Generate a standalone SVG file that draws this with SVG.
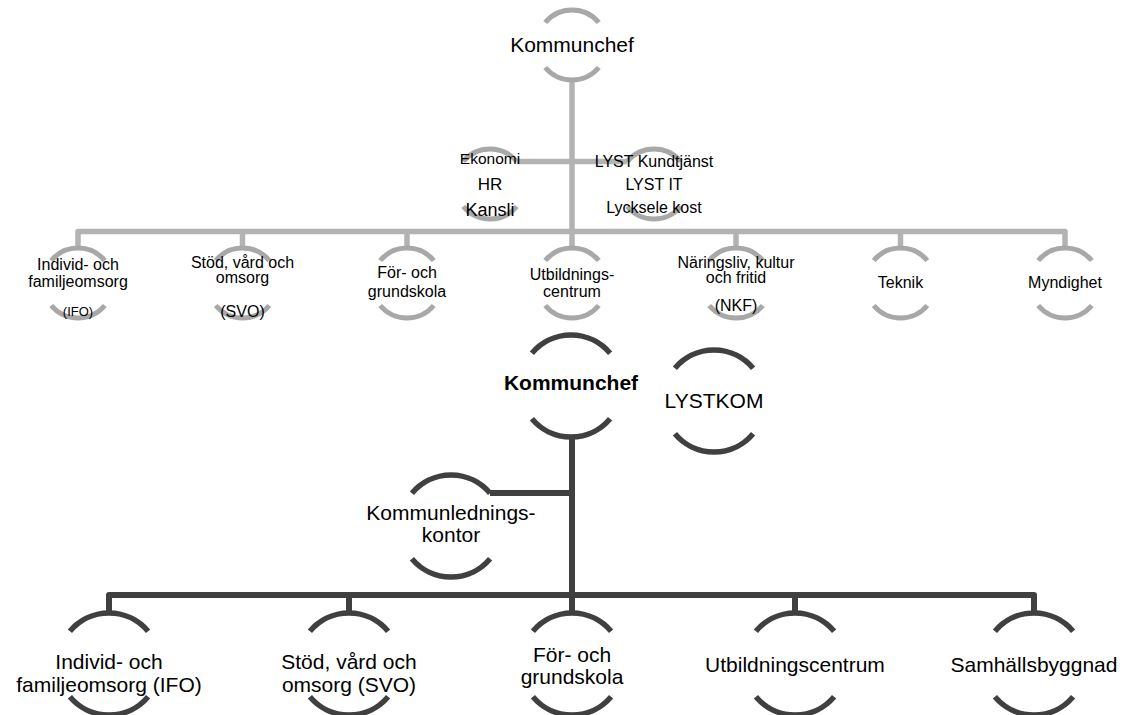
<svg xmlns="http://www.w3.org/2000/svg" xmlns:xlink="http://www.w3.org/1999/xlink" width="1135" height="715" viewBox="0 0 1135 715">
<style>
  text { font-family: "Liberation Sans", Arial, sans-serif; fill: #000; text-anchor: middle; }
  .t16 { font-size: 16px; }
  .t21 { font-size: 21px; }
  .gl { fill: none; stroke: #b3b3b3; stroke-width: 5.5; stroke-linejoin: round; }
  .dl { fill: none; stroke: #404040; stroke-width: 6; stroke-linejoin: round; }
</style>
<defs>
  <path id="ga" d="M-26.8,-22.5 A35,35 0 0 1 26.8,-22.5 M-26.8,22.5 A35,35 0 0 0 26.8,22.5" fill="none" stroke="#a8a8a8" stroke-width="5"/>
  <path id="da" d="M-39.1,-32.8 A51,51 0 0 1 39.1,-32.8 M-39.1,32.8 A51,51 0 0 0 39.1,32.8" fill="none" stroke="#404040" stroke-width="5.5"/>
</defs>
<rect width="1135" height="715" fill="#fff"/>
<g id="connectors">
  <path class="gl" d="M572,80 V231.5"/>
  <path class="gl" d="M78,248 V231.5 H1065 V248"/>
  <path class="gl" d="M242.5,231.5 V248 M407,231.5 V248 M572,231.5 V248 M736,231.5 V248 M900.5,231.5 V248"/>
  <path class="gl" d="M516.8,161.5 H627.2"/>
  <path class="dl" d="M572,437 V595"/>
  <path class="dl" d="M490,493 H572"/>
  <path class="dl" d="M109,613 V595 H1034 V613"/>
  <path class="dl" d="M349,595 V613 M572,595 V613 M795,595 V613"/>
</g>
<g id="top-kommunchef">
  <use xlink:href="#ga" x="572" y="45"/>
  <text class="t21" x="572" y="52">Kommunchef</text>
</g>
<g id="staff-left">
  <use xlink:href="#ga" x="490" y="184"/>
  <text x="490" y="164" style="font-size:15.5px">Ekonomi</text>
  <text x="490" y="190" style="font-size:17px">HR</text>
  <text x="490" y="216" style="font-size:18px">Kansli</text>
</g>
<g id="staff-right">
  <use xlink:href="#ga" x="654" y="184"/>
  <text class="t16" x="654" y="167">LYST Kundtjänst</text>
  <text class="t16" x="654" y="190">LYST IT</text>
  <text class="t16" x="654" y="213">Lycksele kost</text>
</g>
<g id="top-ifo">
  <use xlink:href="#ga" x="78" y="283"/>
  <text class="t16" x="78" y="270">Individ- och</text>
  <text class="t16" x="78" y="287">familjeomsorg</text>
  <text x="78" y="316" style="font-size:13px">(IFO)</text>
</g>
<g id="top-svo">
  <use xlink:href="#ga" x="242.5" y="283"/>
  <text class="t16" x="242.5" y="268">Stöd, vård och</text>
  <text class="t16" x="242.5" y="283">omsorg</text>
  <text class="t16" x="242.5" y="317">(SVO)</text>
</g>
<g id="top-for">
  <use xlink:href="#ga" x="407" y="283"/>
  <text class="t16" x="407" y="278">För- och</text>
  <text class="t16" x="407" y="297">grundskola</text>
</g>
<g id="top-utb">
  <use xlink:href="#ga" x="572" y="283"/>
  <text class="t16" x="572" y="280">Utbildnings-</text>
  <text class="t16" x="572" y="297">centrum</text>
</g>
<g id="top-nkf">
  <use xlink:href="#ga" x="736" y="283"/>
  <text class="t16" x="736" y="268">Näringsliv, kultur</text>
  <text class="t16" x="736" y="283">och fritid</text>
  <text class="t16" x="736" y="311">(NKF)</text>
</g>
<g id="top-teknik">
  <use xlink:href="#ga" x="900.5" y="283"/>
  <text class="t16" x="900.5" y="288">Teknik</text>
</g>
<g id="top-myndighet">
  <use xlink:href="#ga" x="1065" y="283"/>
  <text class="t16" x="1065" y="288">Myndighet</text>
</g>
<g id="kommunchef">
  <use xlink:href="#da" x="571" y="386"/>
  <text class="t21" x="571" y="390" font-weight="bold">Kommunchef</text>
</g>
<g id="lystkom">
  <use xlink:href="#da" x="714" y="401"/>
  <text class="t21" x="714" y="408">LYSTKOM</text>
</g>
<g id="kommunledningskontor">
  <use xlink:href="#da" x="451" y="526"/>
  <text class="t21" x="451" y="520">Kommunlednings-</text>
  <text class="t21" x="451" y="542">kontor</text>
</g>
<g id="ifo">
  <use xlink:href="#da" x="109" y="664"/>
  <text class="t21" x="109" y="669">Individ- och</text>
  <text class="t21" x="109" y="692">familjeomsorg (IFO)</text>
</g>
<g id="svo">
  <use xlink:href="#da" x="349" y="664"/>
  <text class="t21" x="349" y="669">Stöd, vård och</text>
  <text class="t21" x="349" y="692">omsorg (SVO)</text>
</g>
<g id="for">
  <use xlink:href="#da" x="572" y="664"/>
  <text class="t21" x="572" y="662">För- och</text>
  <text class="t21" x="572" y="684">grundskola</text>
</g>
<g id="utb">
  <use xlink:href="#da" x="795" y="664"/>
  <text class="t21" x="795" y="672">Utbildningscentrum</text>
</g>
<g id="samhall">
  <use xlink:href="#da" x="1034" y="664"/>
  <text class="t21" x="1034" y="672">Samhällsbyggnad</text>
</g>
</svg>
